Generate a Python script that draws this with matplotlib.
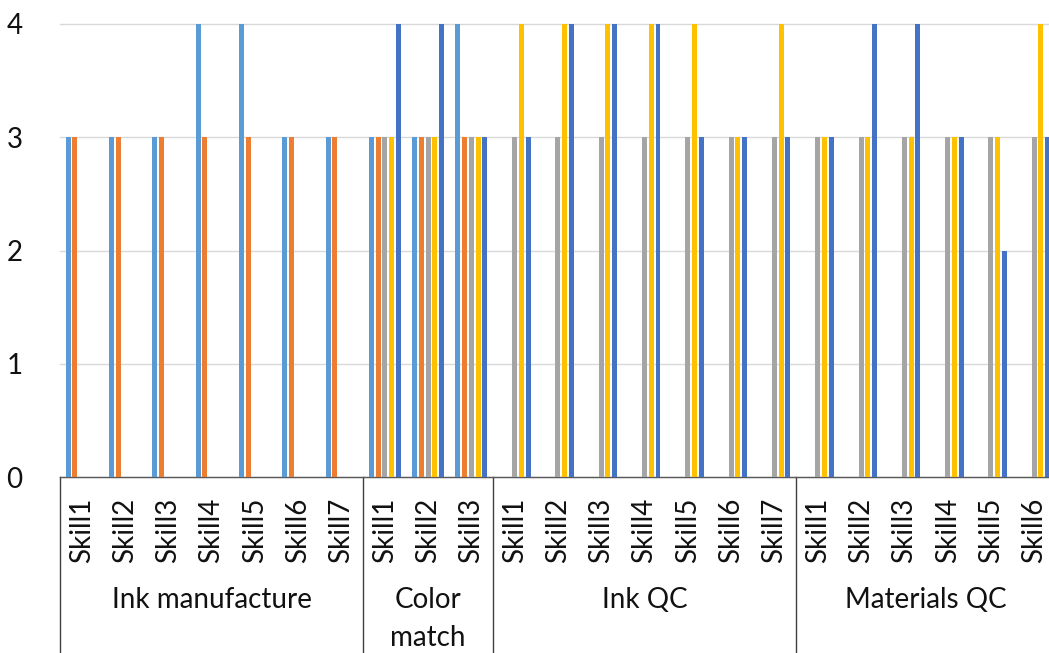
import matplotlib.pyplot as plt
import matplotlib.transforms as mtransforms

plt.rcParams['font.family'] = ['Lato', 'DejaVu Sans']

# skill groups and their skills (left to right)
groups = ['Ink manufacture', 'Color\nmatch', 'Ink QC', 'Materials QC']
group_sizes = [7, 3, 7, 6]
skills = ['Skill1', 'Skill2', 'Skill3', 'Skill4', 'Skill5', 'Skill6', 'Skill7',
          'Skill1', 'Skill2', 'Skill3',
          'Skill1', 'Skill2', 'Skill3', 'Skill4', 'Skill5', 'Skill6', 'Skill7',
          'Skill1', 'Skill2', 'Skill3', 'Skill4', 'Skill5', 'Skill6']

# ratings per series
light_blue = [3, 3, 3, 4, 4, 3, 3,  3, 3, 4,  0, 0, 0, 0, 0, 0, 0,  0, 0, 0, 0, 0, 0]
orange     = [3, 3, 3, 3, 3, 3, 3,  3, 3, 3,  0, 0, 0, 0, 0, 0, 0,  0, 0, 0, 0, 0, 0]
gray       = [0, 0, 0, 0, 0, 0, 0,  3, 3, 3,  3, 3, 3, 3, 3, 3, 3,  3, 3, 3, 3, 3, 3]
yellow     = [0, 0, 0, 0, 0, 0, 0,  3, 3, 3,  4, 4, 4, 4, 4, 3, 4,  3, 3, 3, 3, 3, 4]
dark_blue  = [0, 0, 0, 0, 0, 0, 0,  4, 4, 3,  3, 4, 4, 4, 3, 3, 3,  3, 4, 4, 3, 2, 3]

series = [light_blue, orange, gray, yellow, dark_blue]
colors = ['#5B9BD5', '#ED7D31', '#A5A5A5', '#FFC000', '#4472C4']

W, H = 1049, 653
fig = plt.figure(figsize=(W / 100, H / 100), dpi=100)
ax = fig.add_axes([60 / W, 176 / H, (W - 60) / W, 453 / H])

x = list(range(len(skills)))
pitch = 0.155
width = 0.115
for i, (vals, c) in enumerate(zip(series, colors)):
    ax.bar([xi + (i - 2) * pitch for xi in x], vals, width=width, color=c, zorder=3)

ax.set_ylim(0, 4)
ax.set_xlim(-0.5, 22.34)
ax.set_yticks([0, 1, 2, 3, 4])
ax.yaxis.grid(True, color='#D9D9D9', linewidth=1, zorder=0, clip_on=False)
for spine in ['top', 'right', 'left']:
    ax.spines[spine].set_visible(False)
ax.spines['bottom'].set_color('#595959')
ax.spines['bottom'].set_linewidth(1)

ax.set_xticks(x)
ax.set_xticklabels(skills, rotation=90, fontsize=20, color='#111111')
ax.tick_params(axis='x', length=0, pad=15)
ax.tick_params(axis='y', length=0, pad=27, labelsize=20, labelcolor='#111111')

# group separators and group names below the skill labels
trans = mtransforms.blended_transform_factory(ax.transData, ax.transAxes)
y_bottom = -176 / 453
start = 0
edges = [-0.5]
for g, n in zip(groups, group_sizes):
    edges.append(start + n - 0.5)
    center = start + (n - 1) / 2
    ax.text(center, -0.243, g, transform=trans, ha='center', va='top',
            fontsize=20, color='#111111', linespacing=1.55)
    start += n
for e in edges:
    ax.plot([e, e], [0, y_bottom], transform=trans, color='#404040',
            linewidth=1, clip_on=False)

fig.savefig('out.png', dpi=100)
